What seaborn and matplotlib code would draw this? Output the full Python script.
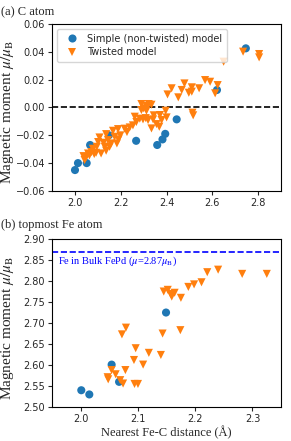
import numpy as np
import pandas as pd
import matplotlib
matplotlib.use("Agg")
import matplotlib.pyplot as plt
import seaborn as sns

sns.set_style("ticks")
plt.rcParams["font.family"] = ["DejaVu Sans"]
plt.rcParams["mathtext.fontset"] = "stix"

SERIF = ["Liberation Serif", "DejaVu Serif"]
LAB_SIMPLE = "Simple (non-twisted) model"
LAB_TWIST = "Twisted model"

# (a) C atom
c_simple_x = [2.000, 2.013, 2.051, 2.066, 2.148, 2.267, 2.359, 2.382, 2.394, 2.444, 2.620, 2.746]
c_simple_y = [-0.045, -0.040, -0.040, -0.027, -0.020, -0.024, -0.027, -0.023, -0.019, -0.0086, 0.0125, 0.0424]
c_twist_x = [2.734, 2.804, 2.804, 2.649, 2.623, 2.612, 2.568, 2.590, 2.542, 2.510,
             2.510, 2.497, 2.478, 2.466, 2.451, 2.422, 2.404, 2.513, 2.516, 2.396,
             2.400, 2.290, 2.300, 2.322, 2.334, 2.312, 2.290, 2.312, 2.283, 2.297,
             2.309, 2.319, 2.344, 2.341, 2.371, 2.378, 2.368, 2.356, 2.334, 2.261,
             2.268, 2.253, 2.239, 2.217, 2.227, 2.188, 2.198, 2.166, 2.173, 2.136,
             2.144, 2.158, 2.183, 2.190, 2.151, 2.125, 2.130, 2.136, 2.101, 2.095,
             2.078, 2.072, 2.114, 2.092, 2.057, 2.048, 2.037, 2.042, 2.063, 2.084,
             2.107]
c_twist_y = [0.0400, 0.0383, 0.0359, 0.0328, 0.0160, 0.0101, 0.0196, 0.0184, 0.0137, 0.0144,
             0.0113, 0.0105, 0.0172, 0.0125, 0.0072, 0.0137, 0.0093, -0.0038, -0.0057, -0.0024,
             -0.0072, 0.0024, -0.0007, 0.0024, 0.0019, 0.0010, -0.0019, -0.0024, -0.0081, -0.0086,
             -0.0077, -0.0091, -0.0057, -0.0086, -0.0055, -0.0091, -0.0139, -0.0120, -0.0151, -0.0067,
             -0.0105, -0.0129, -0.0144, -0.0153, -0.0177, -0.0156, -0.0201, -0.0168, -0.0211, -0.0192,
             -0.0235, -0.0259, -0.0259, -0.0230, -0.0283, -0.0254, -0.0283, -0.0311, -0.0249, -0.0283,
             -0.0297, -0.0321, -0.0331, -0.0326, -0.0331, -0.0359, -0.0350, -0.0378, -0.0345, -0.0335,
             -0.0216]

# (b) topmost Fe atom
fe_simple_x = [2.001, 2.015, 2.054, 2.067, 2.149]
fe_simple_y = [2.540, 2.530, 2.601, 2.560, 2.725]
fe_twist_x = [2.240, 2.221, 2.282, 2.325, 2.211, 2.198, 2.188, 2.145, 2.152, 2.164,
              2.159, 2.157, 2.175, 2.174, 2.143, 2.140, 2.119, 2.109, 2.093, 2.096,
              2.100, 2.094, 2.079, 2.072, 2.078, 2.074, 2.069, 2.061, 2.054, 2.047,
              2.048]
fe_twist_y = [2.827, 2.821, 2.817, 2.817, 2.797, 2.792, 2.786, 2.775, 2.779, 2.772,
              2.763, 2.769, 2.760, 2.683, 2.675, 2.624, 2.629, 2.601, 2.612, 2.640,
              2.555, 2.555, 2.689, 2.673, 2.588, 2.556, 2.564, 2.578, 2.588, 2.571,
              2.566]
bulk_fe = 2.87

top_yticks = [-0.06, -0.04, -0.02, 0.00, 0.02, 0.04, 0.06]
top_xticks = [2.0, 2.2, 2.4, 2.6, 2.8]
bot_yticks = [2.50, 2.55, 2.60, 2.65, 2.70, 2.75, 2.80, 2.85, 2.90]
bot_xticks = [2.0, 2.1, 2.2, 2.3]


def frame(sx, sy, tx, ty):
    return pd.DataFrame({
        "x": list(sx) + list(tx),
        "y": list(sy) + list(ty),
        "model": [LAB_SIMPLE] * len(sx) + [LAB_TWIST] * len(tx),
    })


df_c = frame(c_simple_x, c_simple_y, c_twist_x, c_twist_y)
df_fe = frame(fe_simple_x, fe_simple_y, fe_twist_x, fe_twist_y)

palette = {LAB_SIMPLE: "#1f77b4", LAB_TWIST: "#ff7f0e"}
markers = {LAB_SIMPLE: "o", LAB_TWIST: "v"}

fig = plt.figure(figsize=(2.91, 4.41), dpi=100)
ax1 = fig.add_axes([0.179, 0.567, 0.787, 0.379])
ax2 = fig.add_axes([0.179, 0.077, 0.787, 0.381])

for ax, df in ((ax1, df_c), (ax2, df_fe)):
    sns.scatterplot(data=df, x="x", y="y", hue="model", style="model",
                    palette=palette, markers=markers, s=34, linewidth=0,
                    ax=ax, legend=(ax is ax1))
    for sp in ax.spines.values():
        sp.set_visible(True)
        sp.set_color("black")
        sp.set_linewidth(0.8)
    ax.tick_params(labelsize=7, length=3, width=0.8, pad=2)
    ax.set_xlabel("")
    ax.set_ylabel("Magnetic moment $\\mu/\\mu_{\\rm B}$", family=SERIF, fontsize=11)
    ax.yaxis.set_label_coords(-0.158, 0.47)

ax1.set_xlim(1.9, 2.9)
ax1.set_ylim(-0.06, 0.06)
ax1.set_yticks(top_yticks)
ax1.set_yticklabels([f"{v:.2f}".replace("-", "\u2212") for v in top_yticks])
ax1.set_xticks(top_xticks)
ax1.set_xticklabels([f"{v:.1f}" for v in top_xticks])
ax1.axhline(0.0, color="black", ls="--", lw=1.2, zorder=0)
leg = ax1.legend(loc="upper left", fontsize=7, frameon=True, handletextpad=0.6,
                 borderpad=0.5, labelspacing=0.4, markerscale=1.0)
leg.get_frame().set_edgecolor("#cccccc")

ax2.set_xlim(1.95, 2.35)
ax2.set_ylim(2.50, 2.90)
ax2.set_yticks(bot_yticks)
ax2.set_yticklabels([f"{v:.2f}" for v in bot_yticks])
ax2.set_xticks(bot_xticks)
ax2.set_xticklabels([f"{v:.1f}" for v in bot_xticks])
ax2.axhline(bulk_fe, color="blue", ls="--", lw=1.2, zorder=0)
ax2.text(1.96, bulk_fe - 0.007, "Fe in Bulk FePd ($\\mu$=2.87$\\mu_{\\rm B}$)",
         color="blue", family=SERIF, fontsize=7.5, va="top", ha="left")
ax2.set_xlabel("Nearest Fe-C distance (\u00c5)", family=SERIF, fontsize=9, labelpad=1)

fig.text(0.005, 0.973, "(a) C atom", family=SERIF, fontsize=9, va="center", ha="left")
fig.text(0.005, 0.49, "(b) topmost Fe atom", family=SERIF, fontsize=9, va="center", ha="left")

fig.savefig("out.png", dpi=100)
